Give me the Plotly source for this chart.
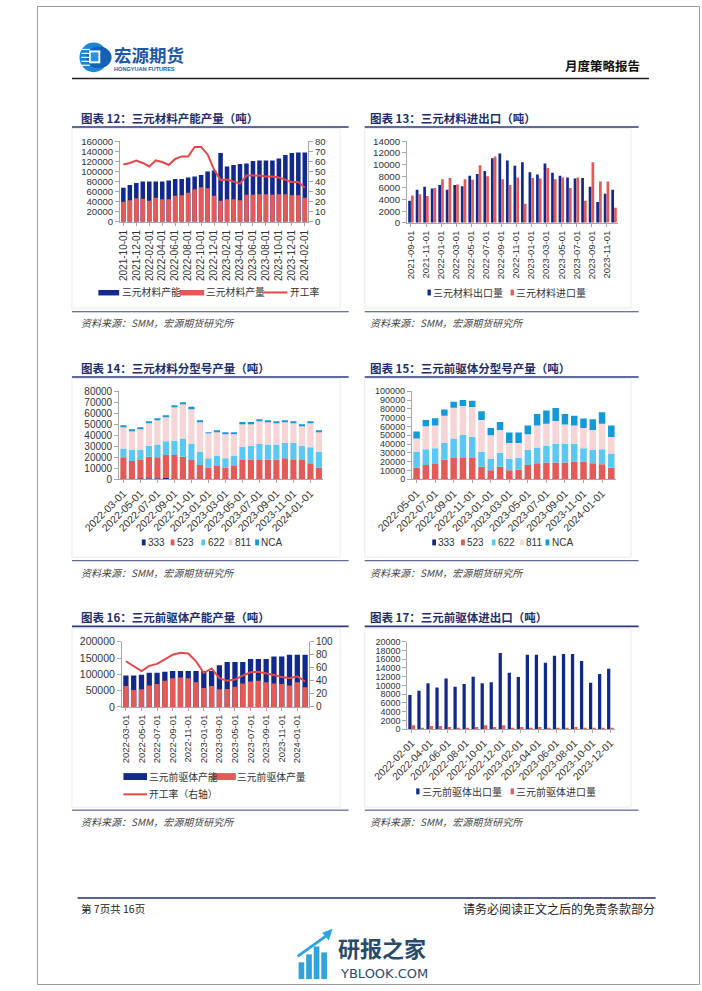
import numpy as np
import pandas as pd
import plotly.graph_objects as go

W, H = 702, 991


def X(p):
    return p / W


def Y(p):
    return 1 - p / H


def months(start, end):
    return pd.date_range(start, end, freq="MS").strftime("%Y-%m-%d").tolist()


# ---------------- data ----------------
# Chart 12
c12_months = months("2021-10-01", "2024-02-01")
c12_capacity = [68000, 73000, 77000, 80000, 80000, 80000, 80000, 82000, 85000, 85000,
                88000, 90000, 93000, 100000, 102000, 137000, 110000, 113000, 115000, 116000,
                121000, 122000, 122000, 122000, 126000, 133000, 137000, 138000, 138000]
c12_output = [40000, 43000, 47000, 46000, 42000, 48000, 45000, 45000, 52000, 53000,
              58000, 65000, 69000, 67000, 52000, 42000, 45000, 45000, 43000, 54000,
              54000, 55000, 55000, 54000, 55000, 55000, 53000, 53000, 48000]
c12_util = [57, 58.5, 61, 58.5, 55, 61, 59.5, 56.5, 62.5, 65,
            65, 74.5, 74.5, 67, 52, 41.5, 42, 40, 38, 46,
            46, 46, 45, 45, 44, 42, 39.5, 39.5, 34]

# Chart 13
c13_months = months("2021-09-01", "2023-12-01")
c13_export = [3800, 5700, 6200, 5900, 6500, 5700, 6500, 6300, 8100, 8400,
              8900, 11100, 11900, 10700, 9800, 10400, 8700, 8300, 10200, 8600,
              8100, 7800, 7600, 7700, 6200, 3600, 5000, 5700]
c13_import = [4700, 4900, 4600, 6000, 7500, 7700, 6600, 7500, 7400, 9900,
              8000, 11400, 7500, 6500, 7800, 3300, 7700, 7600, 9400, 7500,
              7800, 6000, 7800, 3800, 10400, 7100, 7100, 2600]

# Chart 14
c14_months = months("2022-03-01", "2024-02-01")
c14_333 = [200, 200, 800, 800, 800, 1000, 200, 200, 200, 100, 100, 100,
           100, 100, 100, 100, 100, 100, 100, 100, 100, 100, 100, 100]
c14_523 = [19800, 16300, 16700, 19700, 19200, 21000, 21800, 20300, 17300, 12900, 10400, 11900,
           10400, 11900, 17400, 17900, 17400, 17900, 17900, 18900, 17400, 17400, 14400, 10400]
c14_622 = [8000, 10000, 9000, 10000, 11500, 12500, 13000, 16500, 14500, 12000, 8500, 9500,
           8500, 9500, 12000, 12500, 14500, 13500, 13500, 14000, 15500, 13000, 14500, 14500]
c14_811 = [20000, 18000, 19000, 20500, 22500, 22500, 31000, 31500, 32500, 27000, 23000, 21500,
           22000, 19500, 21000, 20000, 21000, 20500, 20000, 19500, 18500, 18000, 22000, 18500]
c14_nca = [1000, 1000, 1000, 1500, 1000, 1000, 1000, 1500, 1500, 1500, 500, 1000,
           1000, 1000, 1500, 1500, 1000, 1000, 1000, 1000, 1000, 1000, 1000, 1000]

# Chart 15
c15_months = months("2022-05-01", "2024-02-01")
c15_333 = [300, 200, 200, 200, 200, 200, 200, 200, 100, 100, 100,
           100, 100, 100, 100, 100, 100, 100, 100, 100, 100, 100]
c15_523 = [13000, 16000, 17000, 22000, 24000, 24000, 24000, 14000, 10000, 14000, 10000,
           11000, 16000, 18000, 19000, 19000, 19000, 20000, 20000, 18000, 17000, 13000]
c15_622 = [18000, 18000, 18000, 19000, 22000, 26000, 24000, 17000, 13000, 16000, 13000,
           13000, 17000, 18000, 19000, 21000, 21000, 20000, 15000, 15000, 17000, 16000]
c15_811 = [15000, 26000, 26000, 31000, 35000, 33000, 34000, 36000, 27000, 26000, 18000,
           17000, 18000, 25000, 25000, 26000, 22000, 21000, 23000, 23000, 29000, 19000]
c15_nca = [8000, 7000, 8000, 7000, 7000, 7000, 7000, 10000, 8000, 9000, 12000,
           12000, 10000, 13000, 15000, 15000, 12000, 11000, 11000, 12000, 13000, 13000]

# Chart 16
c16_months = months("2022-03-01", "2024-02-01")
c16_capacity = [96000, 96000, 99000, 105000, 105000, 108000, 110000, 110000, 110000, 110000,
                110000, 110000, 128000, 138000, 138000, 138000, 147000, 147000, 147000, 155000,
                155000, 160000, 160000, 160000]
c16_output = [64000, 52000, 54000, 66000, 70000, 80000, 88000, 90000, 88000, 76000,
              58000, 64000, 54000, 55000, 62000, 72000, 78000, 80000, 76000, 72000,
              70000, 66000, 76000, 60000]
c16_util = [70, 62, 55, 63, 66, 73, 80, 83, 82, 70, 52, 59,
            44, 40, 42, 48, 53, 54, 52, 49, 46, 44, 47, 39]

# Chart 17
c17_months = months("2022-02-01", "2023-12-01")
c17_export = [7800, 8800, 10500, 9500, 11600, 9700, 10300, 12000, 10500, 10700, 17400, 12900,
              11900, 17000, 17000, 15200, 16800, 17200, 17200, 15600, 10600, 12600, 13800]
c17_import = [900, 200, 700, 700, 500, 200, 200, 500, 900, 500, 900, 300,
              500, 100, 500, 300, 300, 100, 500, 200, 300, 300, 200]

model_names = ["333", "523", "622", "811", "NCA"]

# ---------------- styles ----------------
NAVY = "#12298c"
RED = "#e35a56"
LINE = "#e4484a"
C333 = "#13287e"
C622 = "#5bc8f3"
C811 = "#f7d4d6"
CNCA = "#129ad8"
AX = "#a6a6a6"
TXT = "#333333"
TITLE = "#1f2d6b"
NUMF = "Liberation Sans, Arial, sans-serif"
CJK = "Noto Sans CJK SC, Noto Sans, sans-serif"


def xax(cats, x0, x1, anchor, angle, size):
    return dict(type="category", domain=[X(x0), X(x1)], anchor=anchor,
                range=[-0.5, len(cats) - 0.5], tickmode="array",
                tickvals=cats[::2], ticktext=cats[::2], tickangle=angle,
                tickfont=dict(family=NUMF, size=size, color=TXT),
                showline=True, linecolor=AX, linewidth=1, ticks="outside",
                ticklen=3, tickcolor=AX, showgrid=False, zeroline=False,
                fixedrange=True)


def yax(top, bottom, anchor, rng, dtick, size, side="left", overlaying=None):
    d = dict(anchor=anchor, range=rng, dtick=dtick, tick0=0, side=side,
             tickformat="d",
             tickfont=dict(family=NUMF, size=size, color=TXT),
             showline=True, linecolor=AX, linewidth=1, ticks="outside",
             ticklen=4, tickcolor=AX, showgrid=False, zeroline=False,
             fixedrange=True)
    if overlaying:
        d["overlaying"] = overlaying
    else:
        d["domain"] = [Y(bottom), Y(top)]
    return d


fig = go.Figure()

# ---- Chart 12 ----
fig.add_bar(x=c12_months, y=c12_capacity, name="三元材料产能", marker=dict(color=NAVY, line=dict(width=0)),
            width=0.7, xaxis="x", yaxis="y")
fig.add_bar(x=c12_months, y=c12_output, name="三元材料产量", marker=dict(color=RED, line=dict(width=0)),
            width=0.7, xaxis="x", yaxis="y")
fig.add_scatter(x=c12_months, y=c12_util, name="开工率", mode="lines",
                line=dict(color=LINE, width=2), xaxis="x", yaxis="y2")

# ---- Chart 13 ----
fig.add_bar(x=c13_months, y=c13_export, name="三元材料出口量", marker=dict(color=NAVY, line=dict(width=0)),
            width=0.36, offset=-0.37, xaxis="x2", yaxis="y3")
fig.add_bar(x=c13_months, y=c13_import, name="三元材料进口量", marker=dict(color=RED, line=dict(width=0)),
            width=0.36, offset=0.0, xaxis="x2", yaxis="y3")

# ---- Chart 14 (stacked) ----
base = np.zeros(len(c14_months))
for nm, vals, col in zip(model_names, [c14_333, c14_523, c14_622, c14_811, c14_nca],
                         [C333, RED, C622, C811, CNCA]):
    fig.add_bar(x=c14_months, y=vals, base=base.copy(), name=nm,
                marker=dict(color=col, line=dict(width=0)), width=0.72,
                xaxis="x3", yaxis="y4")
    base = base + np.array(vals)

# ---- Chart 15 (stacked) ----
base = np.zeros(len(c15_months))
for nm, vals, col in zip(model_names, [c15_333, c15_523, c15_622, c15_811, c15_nca],
                         [C333, RED, C622, C811, CNCA]):
    fig.add_bar(x=c15_months, y=vals, base=base.copy(), name=nm,
                marker=dict(color=col, line=dict(width=0)), width=0.7,
                xaxis="x4", yaxis="y5")
    base = base + np.array(vals)

# ---- Chart 16 ----
fig.add_bar(x=c16_months, y=c16_capacity, name="三元前驱体产能", marker=dict(color=NAVY, line=dict(width=0)),
            width=0.68, xaxis="x5", yaxis="y6")
fig.add_bar(x=c16_months, y=c16_output, name="三元前驱体产量", marker=dict(color=RED, line=dict(width=0)),
            width=0.68, xaxis="x5", yaxis="y6")
fig.add_scatter(x=c16_months, y=c16_util, name="开工率（右轴）", mode="lines",
                line=dict(color=LINE, width=2), xaxis="x5", yaxis="y7")

# ---- Chart 17 ----
fig.add_bar(x=c17_months, y=c17_export, name="三元前驱体出口量", marker=dict(color=NAVY, line=dict(width=0)),
            width=0.36, offset=-0.38, xaxis="x6", yaxis="y8")
fig.add_bar(x=c17_months, y=c17_import, name="三元前驱体进口量", marker=dict(color=RED, line=dict(width=0)),
            width=0.36, offset=0.0, xaxis="x6", yaxis="y8")

fig.update_traces(showlegend=False, hoverinfo="skip")

layout_axes = dict(
    xaxis=xax(c12_months, 88, 287, "y", -90, 10),
    yaxis=yax(137, 218.5, "x", [0, 160000], 20000, 9.6),
    yaxis2=yax(137, 218.5, "x", [0, 80], 10, 9.6, side="right", overlaying="y"),
    xaxis2=xax(c13_months, 392, 615, "y3", -90, 9.5),
    yaxis3=yax(137, 219.5, "x2", [0, 14000], 2000, 9.8),
    xaxis3=xax(c14_months, 87, 303, "y4", -45, 10.5),
    yaxis4=yax(390, 479, "x3", [0, 80000], 10000, 10),
    xaxis4=xax(c15_months, 397, 613, "y5", -45, 10.5),
    yaxis5=yax(390, 479, "x4", [0, 100000], 10000, 9),
    xaxis5=xax(c16_months, 90, 288, "y6", -90, 9.5),
    yaxis6=yax(643.5, 709.5, "x5", [0, 200000], 50000, 10.5),
    yaxis7=yax(643.5, 709.5, "x5", [0, 100], 20, 10, side="right", overlaying="y6"),
    xaxis6=xax(c17_months, 392, 612, "y8", -45, 10.2),
    yaxis8=yax(643.5, 732, "x6", [0, 20000], 2000, 9),
)

shapes = []
annotations = []


def hline(x0, x1, y, color, width):
    shapes.append(dict(type="line", xref="paper", yref="paper", x0=X(x0), x1=X(x1),
                       y0=Y(y), y1=Y(y), line=dict(color=color, width=width)))


def rect(x0, y0, x1, y1, fill, line_color=None, width=0, layer="above"):
    shapes.append(dict(type="rect", xref="paper", yref="paper", x0=X(x0), x1=X(x1),
                       y0=Y(y1), y1=Y(y0), fillcolor=fill, layer=layer,
                       line=dict(color=line_color or fill, width=width)))


def text(x, y, s, size, color=TXT, family=CJK, anchor="left", bold=False):
    annotations.append(dict(xref="paper", yref="paper", x=X(x), y=Y(y),
                            text=("<b>%s</b>" % s) if bold else s, showarrow=False,
                            xanchor=anchor, yanchor="middle", borderpad=0,
                            font=dict(family=family, size=size, color=color)))


# page border
shapes.append(dict(type="rect", xref="paper", yref="paper", x0=X(0.5), x1=X(701.5),
                   y0=Y(990.5), y1=Y(0.5), line=dict(color="#9a9a9a", width=1),
                   fillcolor="rgba(0,0,0,0)", layer="below"))

# faint chart frames
for (x0, x1) in [(37, 321), (347, 629)]:
    for (y0, y1) in [(124, 306), (377, 558), (630, 811)]:
        shapes.append(dict(type="rect", xref="paper", yref="paper", x0=X(x0), x1=X(x1),
                           y0=Y(y1), y1=Y(y0), line=dict(color="#ececec", width=1),
                           fillcolor="rgba(0,0,0,0)", layer="below"))

# ---- header ----
shapes.append(dict(type="circle", xref="paper", yref="paper", x0=X(45), x1=X(75),
                   y0=Y(67), y1=Y(37), fillcolor="#1a86d6", line=dict(width=0)))
shapes.append(dict(type="circle", xref="paper", yref="paper", x0=X(52), x1=X(79),
                   y0=Y(63), y1=Y(41), fillcolor="#1660b8", line=dict(width=0)))
for yy in [44, 48, 52, 56, 60]:
    hline(47, 56, yy, "white", 1.2)
rect(55, 45, 67, 58, "white")
rect(57, 47, 65, 56, "#2a8fdc")
text(80, 49, "宏源期货", 17.5, color="#1d57a8", bold=True)
text(80, 63.5, "HONGYUAN FUTURES", 5.6, color="#1d57a8", family=NUMF, bold=True)
text(640, 60, "月度策略报告", 12.5, color="#111111", anchor="right", bold=True)
hline(37, 648, 73.5, "#222222", 1.5)

# ---- titles, rules and sources ----
titles = [
    (45, 113, "图表 12：三元材料产能产量（吨）"),
    (352, 113, "图表 13：三元材料进出口（吨）"),
    (45, 366, "图表 14：三元材料分型号产量（吨）"),
    (352, 366, "图表 15：三元前驱体分型号产量（吨）"),
    (45, 618.5, "图表 16：三元前驱体产能产量（吨）"),
    (352, 618.5, "图表 17：三元前驱体进出口（吨）"),
]
for x, y, s in titles:
    text(x, y, s, 11.5, color=TITLE, bold=True)

for (x0, x1) in [(37, 330), (347, 637)]:
    for y in [122.5, 375.5, 628]:
        hline(x0, x1, y, "#2b3a78", 1.6)
    for y in [309.5, 561.5, 814]:
        hline(x0, x1, y, "#3a4880", 1)

for x in [45, 352]:
    for y in [320.5, 573, 826]:
        text(x, y, "<i>资料来源：SMM，宏源期货研究所</i>", 10, color="#444444")

# ---- legends ----
# chart 12
rect(65, 287.5, 87, 293, NAVY)
text(88.5, 290, "三元材料产能", 9.8)
rect(151, 287.5, 177, 293, RED)
text(178, 290, "三元材料产量", 9.8)
hline(240, 265, 290, LINE, 2)
text(266.5, 290, "开工率", 9.8)
# chart 13
rect(413.5, 287, 417, 293, NAVY)
text(418.5, 290, "三元材料出口量", 10)
rect(501.5, 287, 505, 293, RED)
text(506, 290, "三元材料进口量", 10)
# chart 14
leg14 = [(111, C333), (141.5, RED), (174, C622), (203, C811), (231, CNCA)]
for (x0, col), nm in zip(leg14, model_names):
    rect(x0, 540, x0 + 4, 546, col)
    text(x0 + 5.5, 543, nm, 10, family=NUMF)
# chart 15
leg15 = [(418.5, C333), (449, RED), (481.5, C622), (511.5, C811), (538.5, CNCA)]
for (x0, col), nm in zip(leg15, model_names):
    rect(x0, 540, x0 + 4, 546, col)
    text(x0 + 5.5, 543, nm, 10, family=NUMF)
# chart 16
rect(91.5, 776.5, 116.5, 783.5, NAVY)
text(117, 780, "三元前驱体产能", 9.8)
rect(185.5, 776.5, 210.5, 783.5, RED)
text(211, 780, "三元前驱体产量", 9.8)
hline(91.5, 116.5, 798, LINE, 2)
text(118, 798, "开工率（右轴）", 9.8)
# chart 17
rect(401.5, 792, 405, 798, NAVY)
text(406.5, 795, "三元前驱体出口量", 10)
rect(501.5, 792, 505, 798, RED)
text(506.5, 795, "三元前驱体进口量", 10)

# ---- footer ----
hline(43, 655, 903, "#1f2d6b", 1.6)
text(45, 913.5, "第 7页共 16页", 10.5, color="#222222")
text(655, 913.5, "请务必阅读正文之后的免责条款部分", 12, color="#222222", anchor="right")

# watermark
for (x0, top) in [(277, 968), (285, 960), (293, 952), (301, 958)]:
    rect(x0, top, x0 + 6, 985, "#2fa3dc")
shapes.append(dict(type="line", xref="paper", yref="paper", x0=X(276), x1=X(308),
                   y0=Y(962), y1=Y(940), line=dict(color="#2fa3dc", width=3)))
shapes.append(dict(type="path", xref="paper", yref="paper",
                   path="M %f %f L %f %f L %f %f Z" % (X(302), Y(938), X(313), Y(934), X(309), Y(946)),
                   fillcolor="#2fa3dc", line=dict(width=0)))
text(318, 953, "研报之家", 22, color="#2a4a68", bold=True)
text(320, 979, "YBLOOK.COM", 13, color="#2a4a68", family="DejaVu Sans, sans-serif")

fig.update_layout(
    width=W, height=H, autosize=False,
    margin=dict(l=0, r=0, t=0, b=0, pad=0),
    paper_bgcolor="white", plot_bgcolor="rgba(0,0,0,0)",
    barmode="overlay", showlegend=False,
    font=dict(family=CJK, color=TXT),
    shapes=shapes, annotations=annotations,
    **layout_axes,
)

fig.write_html("out.html")
